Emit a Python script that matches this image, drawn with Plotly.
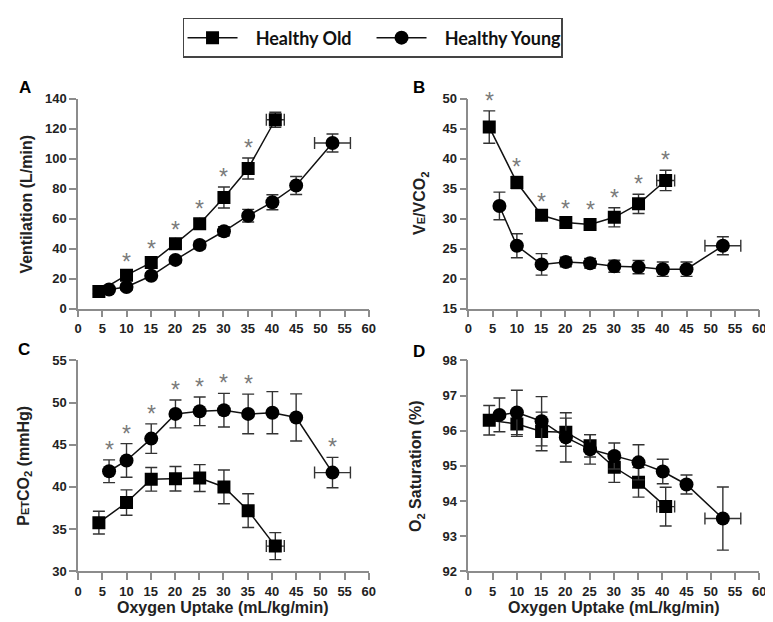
import plotly.graph_objects as go

# ---------------- data ----------------
old_x = [4.3, 10.0, 15.1, 20.1, 25.1, 30.1, 35.1, 40.7]
old_xerr = [0, 0, 0, 0, 0, 0, 0, 1.85]
young_x = [6.4, 10.0, 15.1, 20.1, 25.1, 30.1, 35.1, 40.1, 45.0, 52.5]
young_xerr = [0, 0, 0, 0, 0, 0, 0, 0, 0, 3.7]

# A: Ventilation (L/min)
vent_old = [11.5, 22.4, 30.8, 43.4, 56.7, 74.2, 93.6, 126.1]
vent_old_err = [1.5, 2.0, 2.5, 2.5, 3.0, 7.0, 7.0, 5.0]
vent_young = [12.8, 14.5, 22.0, 32.6, 42.5, 51.7, 62.1, 71.1, 82.2, 110.6]
vent_young_err = [1.5, 2.0, 2.0, 2.0, 2.5, 3.0, 4.2, 5.0, 6.0, 6.0]
vent_sig_old = [0, 1, 1, 1, 1, 1, 1, 0]

# B: VE/VCO2
eq_old = [45.3, 36.05, 30.6, 29.4, 29.05, 30.25, 32.5, 36.4]
eq_old_err = [2.7, 1.0, 0.5, 0.5, 0.7, 1.6, 1.6, 1.7]
eq_young = [32.15, 25.5, 22.4, 22.8, 22.6, 22.1, 21.95, 21.6, 21.6, 25.5]
eq_young_err = [2.3, 2.0, 1.8, 0.8, 0.8, 1.0, 1.1, 1.2, 1.2, 1.5]
eq_sig_old = [1, 1, 1, 1, 1, 1, 1, 1]

# C: PETCO2 (mmHg)
pet_old = [35.76, 38.15, 40.9, 40.97, 41.05, 40.0, 37.19, 32.98]
pet_old_err = [1.35, 1.5, 1.4, 1.45, 1.6, 2.0, 2.0, 1.6]
pet_young = [41.86, 43.14, 45.73, 48.66, 48.97, 49.1, 48.66, 48.8, 48.24, 41.7]
pet_young_err = [1.35, 2.0, 1.75, 1.65, 1.7, 2.0, 2.35, 2.5, 2.8, 1.8]
pet_sig_young = [1, 1, 1, 1, 1, 1, 1, 0, 0, 1]

# D: O2 saturation (%)
sat_old = [96.30, 96.19, 95.98, 95.96, 95.57, 94.96, 94.53, 93.84]
sat_old_err = [0.42, 0.35, 0.55, 0.4, 0.32, 0.43, 0.42, 0.55]
sat_young = [96.45, 96.52, 96.27, 95.81, 95.47, 95.28, 95.1, 94.84, 94.47, 93.5]
sat_young_err = [0.48, 0.63, 0.7, 0.7, 0.42, 0.37, 0.5, 0.35, 0.27, 0.9]

series_names = ["Healthy Old", "Healthy Young"]
x_ticks = [0, 5, 10, 15, 20, 25, 30, 35, 40, 45, 50, 55, 60]
x_title = "Oxygen Uptake (mL/kg/min)"

# ---------------- layout helpers ----------------
W, H = 773, 622
def px(x):
    return x / W
def py(y):
    return 1 - y / H

FONT = "Liberation Sans, Arial, sans-serif"
AXC = "#8c8c8c"
PAD = "\u00a0\u00a0\u00a0"

fig = go.Figure()

panels = [
    ("A", "x", "y", vent_old, vent_old_err, vent_young, vent_young_err, vent_sig_old, None, [0, 140], 20,
     "Ventilation (L/min)"),
    ("B", "x2", "y2", eq_old, eq_old_err, eq_young, eq_young_err, eq_sig_old, None, [15, 50], 5,
     "V<span style='font-size:11px'>E</span>/VCO<sub>2</sub>"),
    ("C", "x3", "y3", pet_old, pet_old_err, pet_young, pet_young_err, None, pet_sig_young, [30, 55], 5,
     "P<span style='font-size:11px'>ET</span>CO<sub>2</sub> (mmHg)"),
    ("D", "x4", "y4", sat_old, sat_old_err, sat_young, sat_young_err, None, None, [92, 98], 1,
     "O<sub>2</sub> Saturation (%)"),
]

x_dom_left = [px(67), px(362)]
x_dom_right = [px(463), px(758)]
y_dom_top = [py(301), py(86)]
y_dom_bot = [py(570), py(354)]
doms = {
    "A": (x_dom_left, y_dom_top),
    "B": (x_dom_right, y_dom_top),
    "C": (x_dom_left, y_dom_bot),
    "D": (x_dom_right, y_dom_bot),
}
label_pos = {"A": (13, 74), "B": (413, 74), "C": (12, 343), "D": (413, 345)}
ytitle_x = {"A": 15, "B": 415, "C": 13, "D": 411}

annotations = []
for i, (name, xa, ya, oy, oe, yy, ye, sig_o, sig_y, yr, dt, ytitle) in enumerate(panels):
    show = (i == 0)
    fig.add_trace(go.Scatter(
        x=old_x, y=oy, xaxis=xa, yaxis=ya, mode="lines+markers",
        name=PAD + series_names[0], legendgroup="old", showlegend=show,
        line=dict(color="#111", width=1.5),
        marker=dict(symbol="square", size=13, color="#000"),
        error_y=dict(type="data", array=oe, color="#333", thickness=1.4, width=6),
        error_x=dict(type="data", array=old_xerr, color="#333", thickness=1.4, width=6),
    ))
    fig.add_trace(go.Scatter(
        x=young_x, y=yy, xaxis=xa, yaxis=ya, mode="lines+markers",
        name=PAD + series_names[1], legendgroup="young", showlegend=show,
        line=dict(color="#111", width=1.5),
        marker=dict(symbol="circle", size=14, color="#000"),
        error_y=dict(type="data", array=ye, color="#333", thickness=1.4, width=6),
        error_x=dict(type="data", array=young_xerr, color="#333", thickness=1.4, width=6),
    ))
    # significance asterisks
    for sig, xs, ys, es in ((sig_o, old_x, oy, oe), (sig_y, young_x, yy, ye)):
        if sig is None:
            continue
        for s, xv, yv, ev in zip(sig, xs, ys, es):
            if s:
                annotations.append(dict(
                    x=xv, y=yv + ev, xref=xa, yref=ya, text="*", showarrow=False,
                    yanchor="bottom", yshift=-5,
                    font=dict(family=FONT, size=23, color="#7a7a7a")))
    xd, yd = doms[name]
    axis_common = dict(
        showline=True, linecolor=AXC, linewidth=1.5, ticks="outside",
        ticklen=7, tickwidth=1.5, tickcolor=AXC, showgrid=False, zeroline=False,
        tickfont=dict(family=FONT, size=13, color="#222", weight="bold"),
    )
    fig.update_layout({
        ("xaxis" if i == 0 else f"xaxis{i+1}"): dict(
            domain=xd, range=[0, 60], tickvals=x_ticks, anchor=ya, **axis_common),
        ("yaxis" if i == 0 else f"yaxis{i+1}"): dict(
            domain=yd, range=yr, dtick=dt, tick0=yr[0], anchor=xa, **axis_common),
    })
    lx, ly = label_pos[name]
    annotations.append(dict(x=px(lx), y=py(ly), xref="paper", yref="paper", text=name,
                            showarrow=False, xanchor="center", yanchor="middle",
                            font=dict(family=FONT, size=17, color="#000", weight="bold")))
    annotations.append(dict(x=px(ytitle_x[name]), y=(yd[0] + yd[1]) / 2, xref="paper", yref="paper",
                            text=ytitle, textangle=-90, showarrow=False,
                            xanchor="center", yanchor="middle",
                            font=dict(family=FONT, size=16, color="#222", weight="bold")))
    if name in ("C", "D"):
        annotations.append(dict(x=(xd[0] + xd[1]) / 2, y=py(607), xref="paper", yref="paper",
                                text=x_title, showarrow=False, xanchor="center", yanchor="middle",
                                font=dict(family=FONT, size=16, color="#222", weight="bold")))

fig.update_layout(
    width=W, height=H,
    margin=dict(l=0, r=0, t=0, b=0),
    paper_bgcolor="white", plot_bgcolor="white",
    annotations=annotations,
    showlegend=True,
    legend=dict(
        orientation="h", x=px(173), y=py(3), xanchor="left", yanchor="top",
        bordercolor="#444", borderwidth=1.5, bgcolor="white",
        font=dict(family="Lato, Noto Sans, sans-serif", size=18, color="#111", weight="bold"),
        itemwidth=50, entrywidth=124, tracegroupgap=0,
    ),
)

fig.write_html("out.html")
